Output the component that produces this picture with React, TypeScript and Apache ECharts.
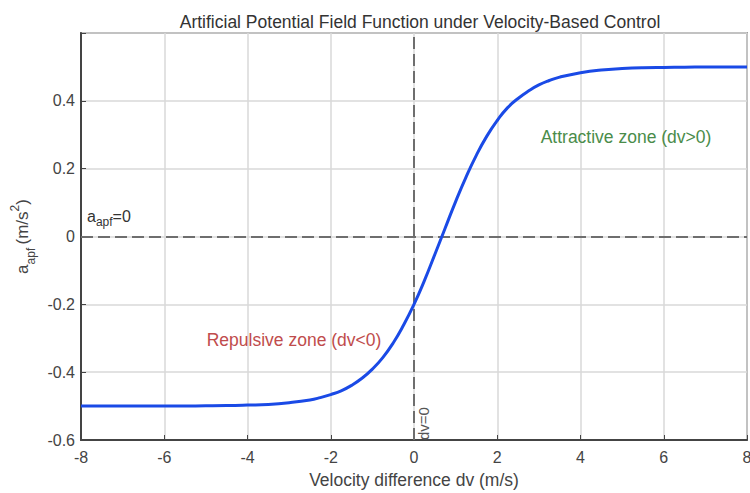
import React, { useEffect, useRef } from "react";
import * as echarts from "echarts";

const dvValues = [
  -8, -7.5, -7, -6.5, -6, -5.5, -5, -4.5, -4, -3.5, -3, -2.5, -2.25, -2, -1.75,
  -1.5, -1.25, -1, -0.75, -0.5, -0.25, 0, 0.25, 0.5, 0.75, 1, 1.25, 1.5, 1.75,
  2, 2.25, 2.5, 2.75, 3, 3.25, 3.5, 4, 4.5, 5, 5.5, 6, 6.5, 7, 7.5, 8,
];
const aapfValues = [
  -0.5, -0.5, -0.5, -0.4999, -0.4998, -0.4996, -0.4992, -0.4985, -0.497, -0.495,
  -0.49, -0.482, -0.475, -0.466, -0.455, -0.439, -0.418, -0.391, -0.357, -0.314,
  -0.261, -0.2, -0.13, -0.053, 0.025, 0.103, 0.175, 0.24, 0.296, 0.342, 0.38,
  0.407, 0.429, 0.447, 0.46, 0.47, 0.483, 0.491, 0.495, 0.4975, 0.4986, 0.4992,
  0.4996, 0.4998, 0.5,
];
const xTicks = { min: -8, max: 8, interval: 2 };
const yTicks = { min: -0.6, max: 0.6, interval: 0.2 };

const FONT = "Liberation Sans, Arial, sans-serif";

export default function App() {
  const ref = useRef<HTMLDivElement>(null);
  useEffect(() => {
    if (!ref.current) return;
    const chart = echarts.init(ref.current, null, { renderer: "svg" });
    const data = dvValues.map((x, i) => [x, aapfValues[i]]);
    chart.setOption({
      animation: false,
      backgroundColor: "#ffffff",
      title: {
        text: "Artificial Potential Field Function under Velocity-Based Control",
        left: 415,
        textAlign: "center",
        top: 8,
        textStyle: { fontFamily: FONT, fontSize: 17.5, fontWeight: "normal", color: "#333" },
      },
      grid: {
        left: 81,
        right: 3,
        top: 33,
        bottom: 53,
        containLabel: false,
        outerBoundsMode: "none",
        show: true,
        borderColor: "#555",
        borderWidth: 1.5,
        backgroundColor: "transparent",
      },
      xAxis: {
        type: "value",
        min: xTicks.min,
        max: xTicks.max,
        interval: xTicks.interval,
        name: "Velocity difference dv (m/s)",
        nameLocation: "middle",
        nameGap: 31,
        nameTextStyle: { fontFamily: FONT, fontSize: 17.5, color: "#444" },
        axisLine: { onZero: false, lineStyle: { color: "#444", width: 2 } },
        axisTick: { inside: true, length: 5, lineStyle: { color: "#444" } },
        axisLabel: { fontFamily: FONT, fontSize: 16, color: "#444", margin: 9 },
        splitLine: { show: true, lineStyle: { color: "#d8d8d8", width: 1.5 } },
      },
      yAxis: {
        type: "value",
        min: yTicks.min,
        max: yTicks.max,
        interval: yTicks.interval,
        name: "{b|a}{s|apf} {b|(m/s}{p|2}{b|)}",
        nameLocation: "middle",
        nameGap: 38,
        nameTextStyle: {
          fontFamily: FONT,
          color: "#444",
          rich: {
            b: { fontFamily: FONT, fontSize: 17, color: "#444", lineHeight: 28, verticalAlign: "middle" },
            s: { fontFamily: FONT, fontSize: 12, color: "#444", lineHeight: 12, verticalAlign: "bottom" },
            p: { fontFamily: FONT, fontSize: 12, color: "#444", lineHeight: 12, verticalAlign: "top" },
          },
        },
        axisLine: { onZero: false, lineStyle: { color: "#444", width: 2 } },
        axisTick: { inside: true, length: 5, lineStyle: { color: "#444" } },
        axisLabel: {
          fontFamily: FONT,
          fontSize: 16,
          color: "#444",
          margin: 6,
          formatter: (v: number) => {
            if (Math.abs(v - 0.6) < 1e-6) return "";
            if (Math.abs(v) < 1e-9) return "0";
            return String(Math.round(v * 10) / 10);
          },
        },
        splitLine: { show: true, lineStyle: { color: "#d8d8d8", width: 1.5 } },
      },
      series: [
        {
          type: "line",
          data,
          smooth: true,
          symbol: "none",
          lineStyle: { color: "#1a4ae6", width: 3 },
          z: 5,
          markLine: {
            silent: true,
            symbol: "none",
            label: { show: false },
            lineStyle: { color: "#6e6e6e", width: 2, type: [12, 5] },
            data: [{ yAxis: 0 }, { xAxis: 0 }],
            z: 3,
          },
        },
      ],
      graphic: [
        {
          type: "text",
          left: 87,
          top: 208,
          style: {
            text: "{b|a}{s|apf}{b|=0}",
            rich: {
              b: { fontFamily: FONT, fontSize: 16, fill: "#333", lineHeight: 24, verticalAlign: "middle" },
              s: { fontFamily: FONT, fontSize: 12, fill: "#333", lineHeight: 12, verticalAlign: "bottom" },
            },
          },
          z: 10,
        },
        {
          type: "text",
          x: 416,
          y: 440,
          rotation: Math.PI / 2,
          style: {
            text: "dv=0",
            fontFamily: FONT,
            fontSize: 15,
            fill: "#555",
            textAlign: "left",
            textVerticalAlign: "top",
          },
          z: 10,
        },
        {
          type: "text",
          x: 626,
          y: 137,
          style: {
            text: "Attractive zone (dv>0)",
            fontFamily: FONT,
            fontSize: 17.5,
            fill: "#4a8c4a",
            textAlign: "center",
            textVerticalAlign: "middle",
          },
          z: 10,
        },
        {
          type: "text",
          x: 294,
          y: 340,
          style: {
            text: "Repulsive zone (dv<0)",
            fontFamily: FONT,
            fontSize: 17.5,
            fill: "#c04c4c",
            textAlign: "center",
            textVerticalAlign: "middle",
          },
          z: 10,
        },
      ],
    });
    return () => chart.dispose();
  }, []);
  return <div ref={ref} style={{ width: 750, height: 493, position: "absolute", left: 0, top: 0 }} />;
}
